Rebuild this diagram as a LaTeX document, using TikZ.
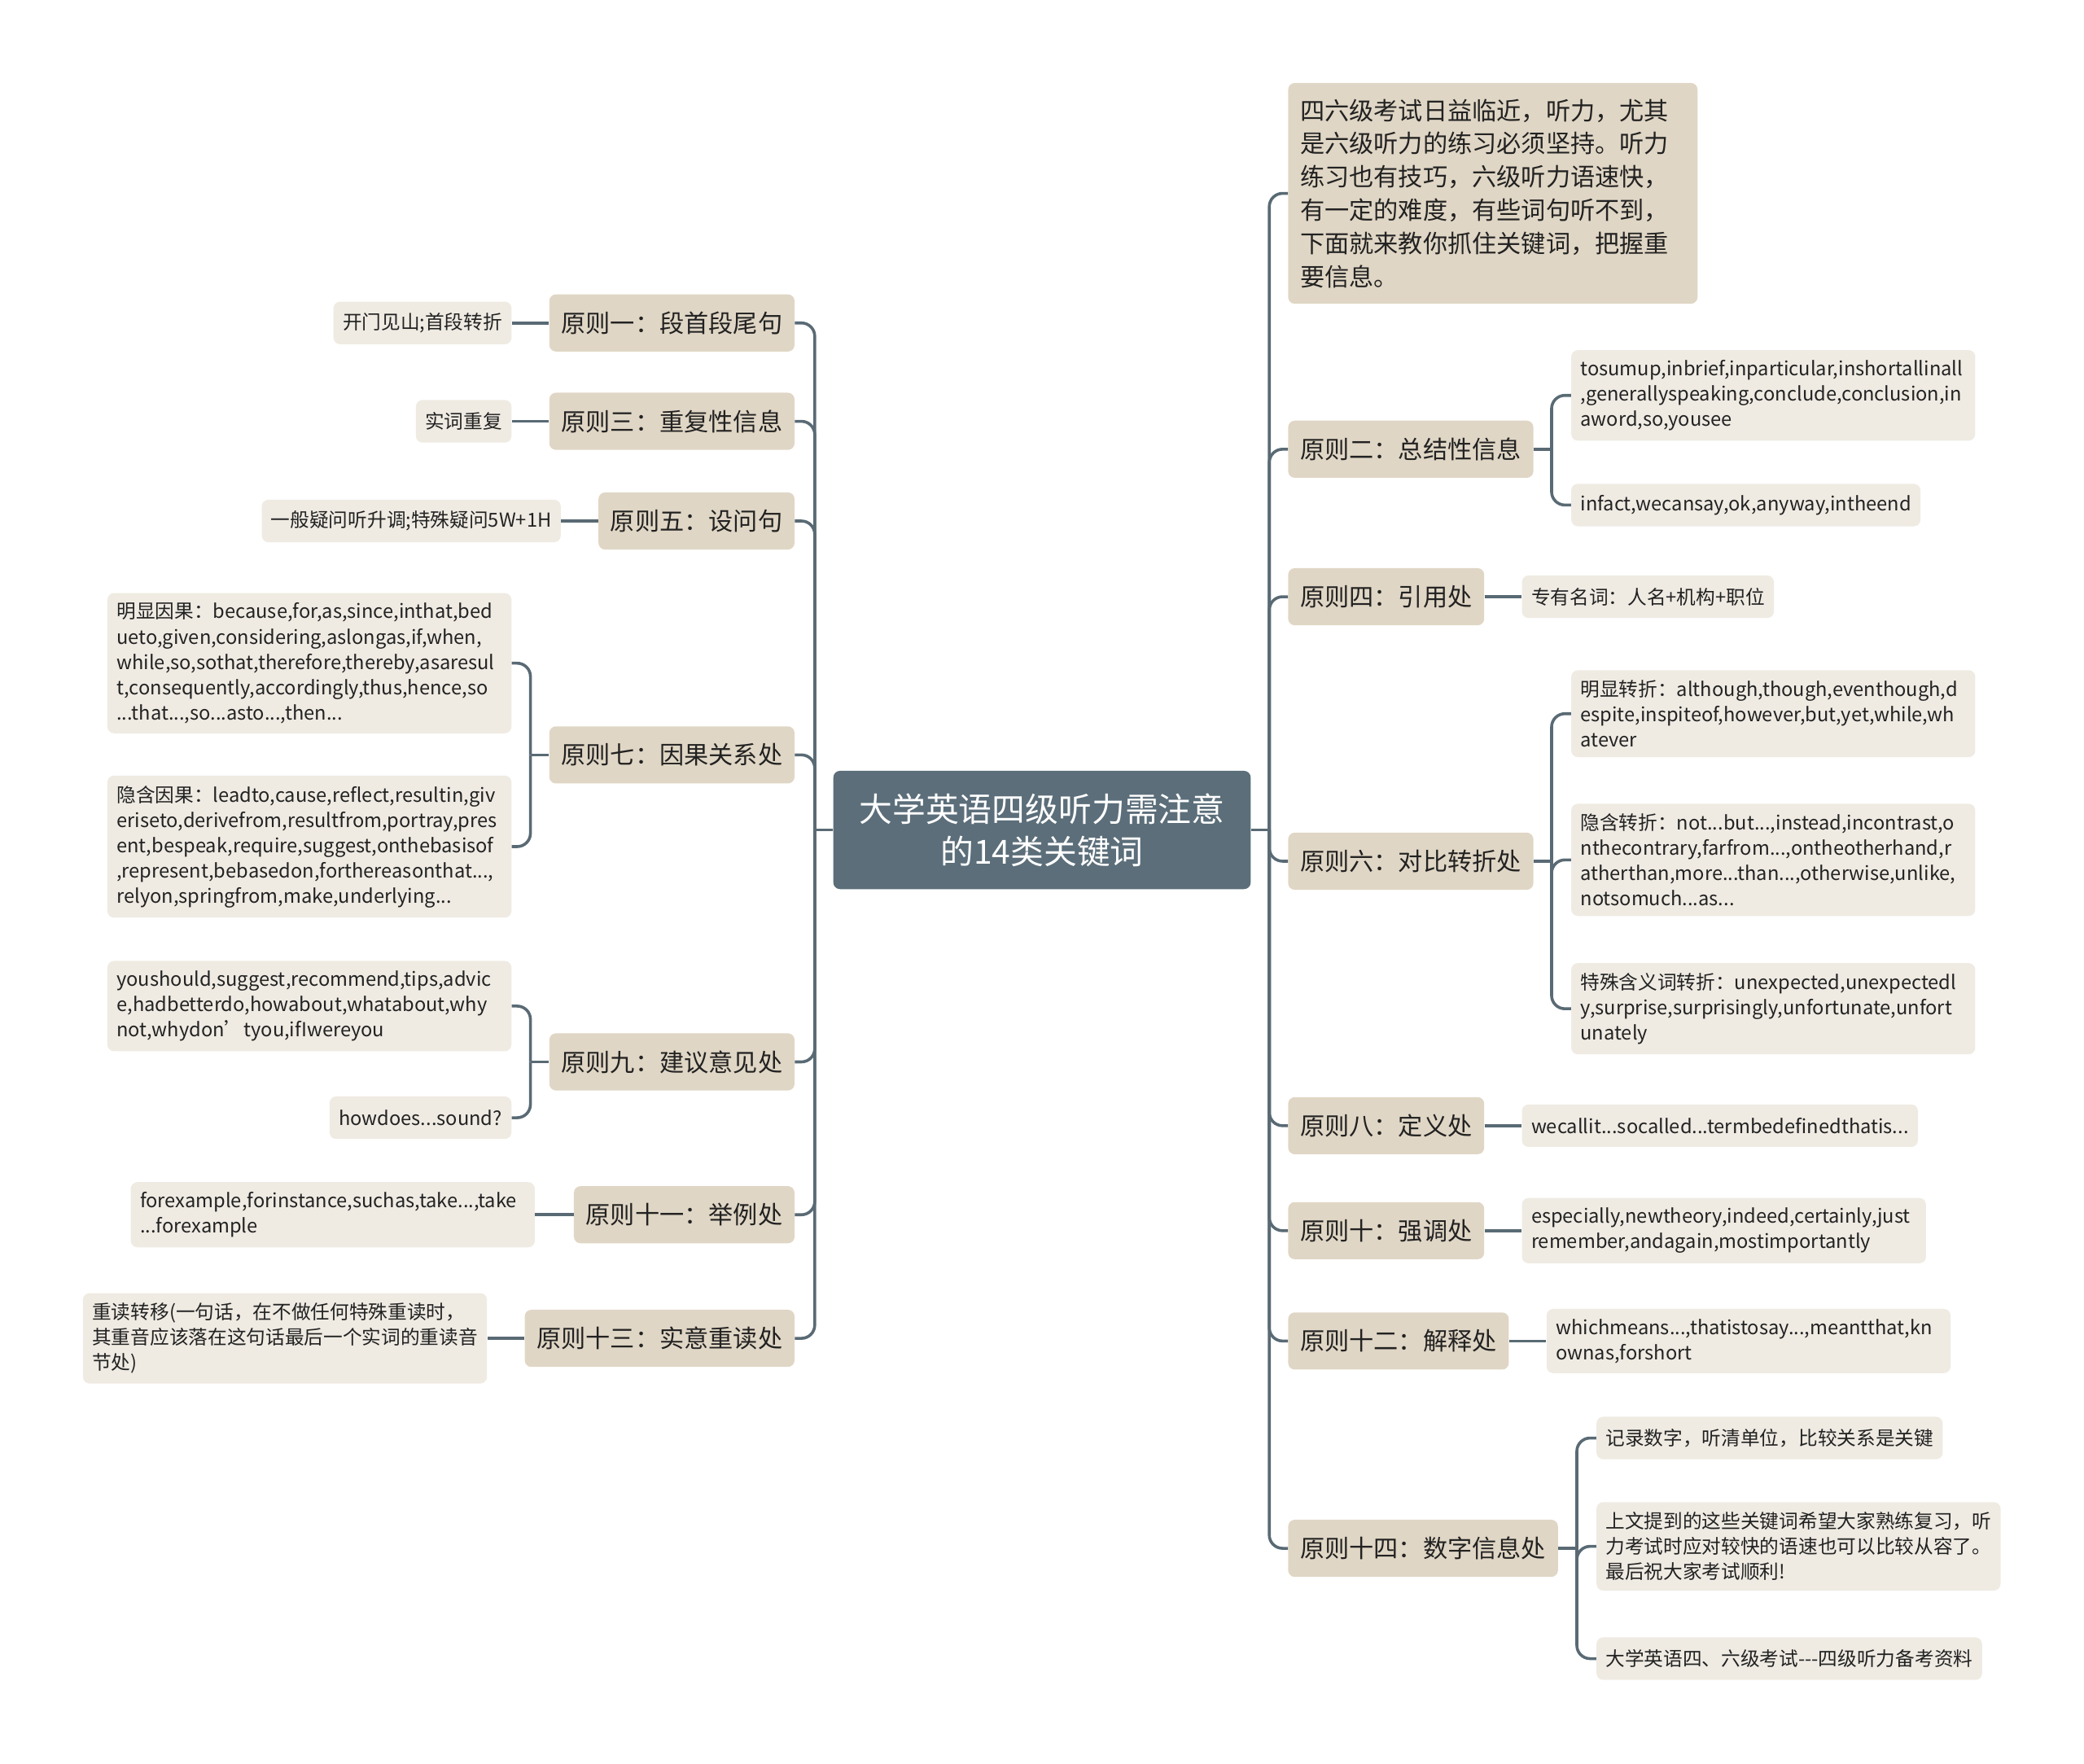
\documentclass[tikz,border=0pt]{standalone}
\usepackage{fontspec}
\setmainfont{Noto Sans CJK SC}
\usetikzlibrary{positioning}

\definecolor{rootfill}{HTML}{5B6E7A}
\definecolor{topicfill}{HTML}{E0D6C5}
\definecolor{leaffill}{HTML}{EFEBE3}
\definecolor{linkcol}{HTML}{596A74}
\definecolor{inkcol}{HTML}{222222}

\begin{document}
\begin{tikzpicture}[
  x=1pt, y=-1pt,
  every node/.style = {text=inkcol},
  root/.style = {
    fill=rootfill,
    text=white,
    rounded corners=5pt,
    align=center,
    minimum width=314pt,
    minimum height=89pt,
    font=\fontsize{25}{32}\selectfont
  },
  topic/.style = {
    fill=topicfill,
    rounded corners=5pt,
    inner xsep=9pt,
    minimum height=43pt,
    font=\fontsize{18.5}{25}\selectfont
  },
  note/.style = {
    topic,
    align=left,
    text width=290pt,
    inner ysep=12pt
  },
  leaf/.style = {
    fill=leaffill,
    rounded corners=5pt,
    inner xsep=7pt,
    inner ysep=6pt,
    minimum height=32pt,
    align=left,
    font=\fontsize{14.5}{19}\selectfont
  },
  wide leaf/.style = {
    leaf,
    text width=290pt,
    inner ysep=7.5pt
  },
  link/.style = {
    draw=linkcol,
    line width=2.2pt,
    rounded corners=10pt
  }
]
\useasboundingbox (0,0) rectangle (1568,1327);

\node[root] (root) at (784,624.5) {大学英语四级听力需注意\\的14类关键词};
\coordinate (lj) at (613,624.5);
\coordinate (rj) at (955,624.5);

% left side
\node[topic, anchor=east] (c1) at (598,243) {原则一：段首段尾句};
\node[topic, anchor=east] (c3) at (598,317) {原则三：重复性信息};
\node[topic, anchor=east] (c5) at (598,392) {原则五：设问句};
\node[topic, anchor=east] (c7) at (598,568) {原则七：因果关系处};
\node[topic, anchor=east] (c9) at (598,799) {原则九：建议意见处};
\node[topic, anchor=east] (c11) at (598,914) {原则十一：举例处};
\node[topic, anchor=east] (c13) at (598,1007) {原则十三：实意重读处};

\node[leaf, left=28pt of c1] (l1) {开门见山;首段转折};
\node[leaf, left=28pt of c3] (l3) {实词重复};
\node[leaf, left=28pt of c5] (l5) {一般疑问听升调;特殊疑问5W+1H};
\node[wide leaf, anchor=east] (l7a) at (385,499) {明显因果：because,for,as,since,inthat,bed\\ueto,given,considering,aslongas,if,when,\\while,so,sothat,therefore,thereby,asaresul\\t,consequently,accordingly,thus,hence,so\\...that...,so...asto...,then...};
\node[wide leaf, anchor=east] (l7b) at (385,637) {隐含因果：leadto,cause,reflect,resultin,giv\\eriseto,derivefrom,resultfrom,portray,pres\\ent,bespeak,require,suggest,onthebasisof\\,represent,bebasedon,forthereasonthat...,\\relyon,springfrom,make,underlying...};
\node[wide leaf, anchor=east] (l9a) at (385,757) {youshould,suggest,recommend,tips,advic\\e,hadbetterdo,howabout,whatabout,why\\not,whydon’tyou,ifIwereyou};
\node[leaf, anchor=east] (l9b) at (385,841) {howdoes...sound?};
\node[wide leaf, left=29pt of c11] (l11) {forexample,forinstance,suchas,take...,take\\...forexample};
\node[wide leaf, left=28pt of c13] (l13) {重读转移(一句话，在不做任何特殊重读时，\\其重音应该落在这句话最后一个实词的重读音\\节处)};

% right side
\node[note, anchor=west] (intro) at (969,145.5) {四六级考试日益临近，听力，尤其\\是六级听力的练习必须坚持。听力\\练习也有技巧，六级听力语速快，\\有一定的难度，有些词句听不到，\\下面就来教你抓住关键词，把握重\\要信息。};
\node[topic, anchor=west] (c2) at (969,338) {原则二：总结性信息};
\node[topic, anchor=west] (c4) at (969,449) {原则四：引用处};
\node[topic, anchor=west] (c6) at (969,648) {原则六：对比转折处};
\node[topic, anchor=west] (c8) at (969,847) {原则八：定义处};
\node[topic, anchor=west] (c10) at (969,926) {原则十：强调处};
\node[topic, anchor=west] (c12) at (969,1009) {原则十二：解释处};
\node[topic, anchor=west] (c14) at (969,1165) {原则十四：数字信息处};

\node[wide leaf, anchor=west] (l2a) at (1182,297.5) {tosumup,inbrief,inparticular,inshortallinall\\,generallyspeaking,conclude,conclusion,in\\aword,so,yousee};
\node[leaf, anchor=west] (l2b) at (1182,380) {infact,wecansay,ok,anyway,intheend};
\node[leaf, right=28pt of c4] (l4) {专有名词：人名+机构+职位};
\node[wide leaf, anchor=west] (l6a) at (1182,537) {明显转折：although,though,eventhough,d\\espite,inspiteof,however,but,yet,while,wh\\atever};
\node[wide leaf, anchor=west] (l6b) at (1182,647) {隐含转折：not...but...,instead,incontrast,o\\nthecontrary,farfrom...,ontheotherhand,r\\atherthan,more...than...,otherwise,unlike,\\notsomuch...as...};
\node[wide leaf, anchor=west] (l6c) at (1182,759) {特殊含义词转折：unexpected,unexpectedl\\y,surprise,surprisingly,unfortunate,unfort\\unately};
\node[leaf, right=28pt of c8] (l8) {wecallit...socalled...termbedefinedthatis...};
\node[wide leaf, right=28pt of c10] (l10) {especially,newtheory,indeed,certainly,just\\remember,andagain,mostimportantly};
\node[wide leaf, right=28pt of c12] (l12) {whichmeans...,thatistosay...,meantthat,kn\\ownas,forshort};
\node[leaf, anchor=west] (l14a) at (1201,1082) {记录数字，听清单位，比较关系是关键};
\node[wide leaf, anchor=west] (l14b) at (1201,1163.5) {上文提到的这些关键词希望大家熟练复习，听\\力考试时应对较快的语速也可以比较从容了。\\最后祝大家考试顺利!};
\node[leaf, anchor=west] (l14c) at (1201,1248) {大学英语四、六级考试-{}-{}-四级听力备考资料};

% trunks
\draw[link] (root.west) -- (lj);
\draw[link] (root.east) -- (rj);
\foreach \c in {c1,c3,c5,c7,c9,c11,c13}
  \draw[link] (lj) |- (\c.east);
\foreach \c in {intro,c2,c4,c6,c8,c10,c12,c14}
  \draw[link] (rj) |- (\c.west);

% single leaves
\draw[link] (c1.west) -- (l1.east);
\draw[link] (c3.west) -- (l3.east);
\draw[link] (c5.west) -- (l5.east);
\draw[link] (c11.west) -- (l11.east);
\draw[link] (c13.west) -- (l13.east);
\draw[link] (c4.east) -- (l4.west);
\draw[link] (c8.east) -- (l8.west);
\draw[link] (c10.east) -- (l10.west);
\draw[link] (c12.east) -- (l12.west);

% brackets
\draw[link] (c7.west) -- ++(-14,0) coordinate (b7);
\draw[link] (b7) |- (l7a.east);
\draw[link] (b7) |- (l7b.east);
\draw[link] (c9.west) -- ++(-14,0) coordinate (b9);
\draw[link] (b9) |- (l9a.east);
\draw[link] (b9) |- (l9b.east);
\draw[link] (c2.east) -- ++(13.5,0) coordinate (b2);
\draw[link] (b2) |- (l2a.west);
\draw[link] (b2) |- (l2b.west);
\draw[link] (c6.east) -- ++(13.5,0) coordinate (b6);
\draw[link] (b6) |- (l6a.west);
\draw[link] (b6) |- (l6b.west);
\draw[link] (b6) |- (l6c.west);
\draw[link] (c14.east) -- ++(14,0) coordinate (b14);
\draw[link] (b14) |- (l14a.west);
\draw[link] (b14) |- (l14b.west);
\draw[link] (b14) |- (l14c.west);

\end{tikzpicture}
\end{document}
